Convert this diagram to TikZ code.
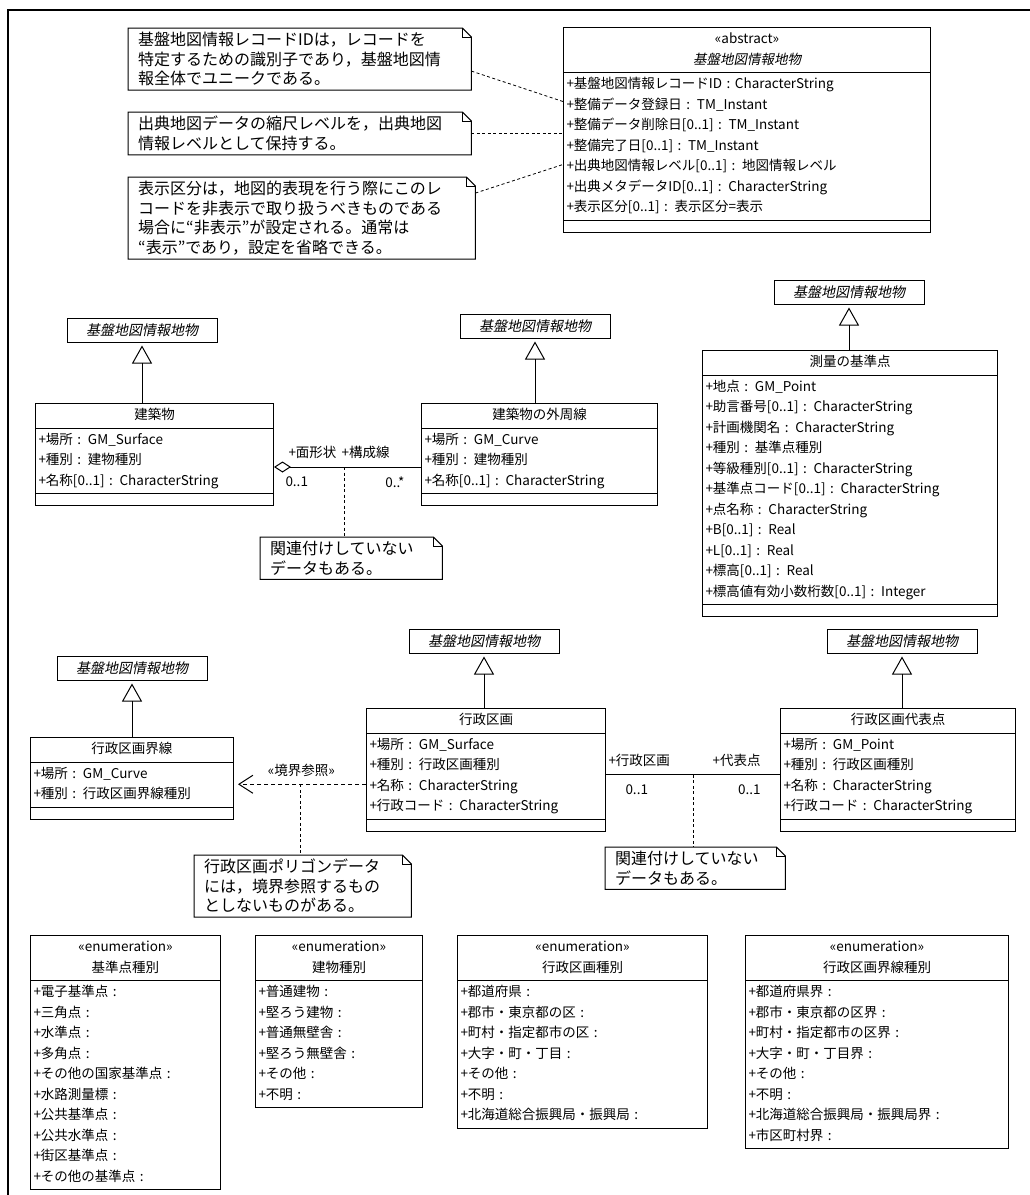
\documentclass[tikz,border=0pt]{standalone}
\usepackage{fontspec}
\setmainfont{Noto Sans CJK JP}
\newfontfamily\slantjp[FakeSlant=0.2]{Noto Sans CJK JP}
\usetikzlibrary{shapes.multipart}
\usetikzlibrary{arrows.meta}

\tikzset{
    umlbox/.style={rectangle split, rectangle split parts=3, draw, line width=1pt,
        anchor=north west, text width=#1, inner xsep=3pt, inner ysep=1.5pt,
        font=\fontsize{13.5}{20.5}\selectfont},
    enumbox/.style={umlbox=#1, rectangle split parts=2},
    superbox/.style={draw, line width=1pt, minimum width=150pt, minimum height=24pt,
        inner sep=0pt, font=\slantjp\fontsize{14}{16}\selectfont},
    genline/.style={-{Triangle[open,length=18pt,width=20pt]}, line width=1pt, shorten >=3pt},
    notebox/.style={anchor=north west, text width=#1, align=left, inner xsep=10pt,
        inner ysep=4pt, font=\fontsize{16}{19.5}\selectfont},
    notelink/.style={line width=0.8pt, dash pattern=on 3pt off 2.5pt},
    rolelabel/.style={inner sep=1pt, font=\fontsize{13.5}{16}\selectfont},
}

\newcommand\notefold[1]{%
    \draw[line width=1pt] (#1.north west) -- ([xshift=-9pt]#1.north east)
        -- ([yshift=-9pt]#1.north east) -- (#1.south east) -- (#1.south west) -- cycle;
    \draw[line width=0.7pt] ([xshift=-9pt]#1.north east) -- ([xshift=-9pt,yshift=-9pt]#1.north east)
        -- ([yshift=-9pt]#1.north east);
}

\begin{document}
\begin{tikzpicture}[x=1pt, y=-1pt]
    \useasboundingbox (0,0) rectangle (1030,1195);
    \draw[line width=1.5pt] (8,1195) -- (8,10) -- (1030,10);

    \node[notebox=323pt] (n-id) at (128,28) {基盤地図情報レコードIDは，レコードを\\特定するための識別子であり，基盤地図情\\報全体でユニークである。};
    \notefold{n-id}
    \node[notebox=323pt] (n-level) at (128,112) {出典地図データの縮尺レベルを，出典地図\\情報レベルとして保持する。};
    \notefold{n-level}
    \node[notebox=327pt] (n-disp) at (128,177) {表示区分は，地図的表現を行う際にこのレ\\コードを非表示で取り扱うべきものである\\場合に“非表示”が設定される。通常は\\“表示”であり，設定を省略できる。};
    \notefold{n-disp}

    \node[umlbox=361pt] (feature) at (563,27) {\centering\strut«abstract»\\{\slantjp 基盤地図情報地物}\strut\par
        \nodepart{two}\strut+基盤地図情報レコードID : CharacterString\\
        +整備データ登録日 : TM\_Instant\\
        +整備データ削除日[0..1] : TM\_Instant\\
        +整備完了日[0..1] : TM\_Instant\\
        +出典地図情報レベル[0..1] : 地図情報レベル\\
        +出典メタデータID[0..1] : CharacterString\\
        +表示区分[0..1] : 表示区分=表示\strut
        \nodepart{three}\rule{0pt}{8pt}};

    \draw[notelink] ([yshift=-12pt]n-id.east) -- ([yshift=-29pt]feature.one split west);
    \draw[notelink] (n-level.east) -- (n-level.east -| feature.west);
    \draw[notelink] ([yshift=25pt]n-disp.east) -- ([yshift=-92pt]feature.one split west);

    \node[superbox] (bldg-super) at (142,330) {基盤地図情報地物};
    \node[superbox] (edge-super) at (535,326) {基盤地図情報地物};
    \node[superbox] (point-super) at (849,292) {基盤地図情報地物};

    \node[umlbox=232pt] (bldg) at (35,403) {\centering\strut 建築物\strut\par
        \nodepart{two}\strut+場所 : GM\_Surface\\
        +種別 : 建物種別\\
        +名称[0..1] : CharacterString\strut
        \nodepart{three}\rule{0pt}{8pt}};
    \node[umlbox=230pt] (bldg-edge) at (421,403) {\centering\strut 建築物の外周線\strut\par
        \nodepart{two}\strut+場所 : GM\_Curve\\
        +種別 : 建物種別\\
        +名称[0..1] : CharacterString\strut
        \nodepart{three}\rule{0pt}{8pt}};
    \node[umlbox=289pt] (point) at (702,350) {\centering\strut 測量の基準点\strut\par
        \nodepart{two}\strut+地点 : GM\_Point\\
        +助言番号[0..1] : CharacterString\\
        +計画機関名 : CharacterString\\
        +種別 : 基準点種別\\
        +等級種別[0..1] : CharacterString\\
        +基準点コード[0..1] : CharacterString\\
        +点名称 : CharacterString\\
        +B[0..1] : Real\\
        +L[0..1] : Real\\
        +標高[0..1] : Real\\
        +標高値有効小数桁数[0..1] : Integer\strut
        \nodepart{three}\rule{0pt}{8pt}};

    \draw[genline] (bldg-super.south |- bldg.north) -- (bldg-super.south);
    \draw[genline] (edge-super.south |- bldg-edge.north) -- (edge-super.south);
    \draw[genline] (point-super.south |- point.north) -- (point-super.south);

    \draw[line width=1pt, {Diamond[open,length=17pt,width=11pt]}-] ([yshift=-12.5pt]bldg.east) -- ([yshift=-12.5pt]bldg-edge.west)
        node[rolelabel, pos=0, anchor=south west, xshift=13pt, yshift=7pt] {+面形状}
        node[rolelabel, pos=1, anchor=south east, xshift=-30pt, yshift=7pt] {+構成線}
        node[rolelabel, pos=0, anchor=north west, xshift=10pt, yshift=-8pt] {0..1}
        node[rolelabel, pos=1, anchor=north east, xshift=-15pt, yshift=-8pt] {0..*}
        coordinate[pos=0.48] (bldg-link);
    \node[notebox=162pt] (n-bldg) at (260,537) {関連付けしていない\\データもある。};
    \notefold{n-bldg}
    \draw[notelink] (bldg-link) -- (bldg-link |- n-bldg.north);

    \node[superbox] (bnd-super) at (132,668) {基盤地図情報地物};
    \node[superbox] (admin-super) at (484,641) {基盤地図情報地物};
    \node[superbox] (rep-super) at (902,641) {基盤地図情報地物};

    \node[umlbox=197pt] (admin-bnd) at (30,737) {\centering\strut 行政区画界線\strut\par
        \nodepart{two}\strut+場所 : GM\_Curve\\
        +種別 : 行政区画界線種別\strut
        \nodepart{three}\rule{0pt}{8pt}};
    \node[umlbox=233pt] (admin) at (366,708) {\centering\strut 行政区画\strut\par
        \nodepart{two}\strut+場所 : GM\_Surface\\
        +種別 : 行政区画種別\\
        +名称 : CharacterString\\
        +行政コード : CharacterString\strut
        \nodepart{three}\rule{0pt}{8pt}};
    \node[umlbox=229pt] (admin-rep) at (780,708) {\centering\strut 行政区画代表点\strut\par
        \nodepart{two}\strut+場所 : GM\_Point\\
        +種別 : 行政区画種別\\
        +名称 : CharacterString\\
        +行政コード : CharacterString\strut
        \nodepart{three}\rule{0pt}{8pt}};

    \draw[genline] (bnd-super.south |- admin-bnd.north) -- (bnd-super.south);
    \draw[genline] (admin-super.south |- admin.north) -- (admin-super.south);
    \draw[genline] (rep-super.south |- admin-rep.north) -- (rep-super.south);

    \draw[line width=1pt, dash pattern=on 4pt off 3pt, -{Straight Barb[length=14pt,width=18pt]}, shorten >=4pt]
        ([yshift=-6pt]admin-bnd.east -| admin.west) -- ([yshift=-6pt]admin-bnd.east)
        node[rolelabel, pos=0.49, above, yshift=6pt] {«境界参照»}
        coordinate[pos=0.5] (bnd-link);
    \node[notebox=197pt] (n-bnd) at (194,855) {行政区画ポリゴンデータ\\には，境界参照するもの\\としないものがある。};
    \notefold{n-bnd}
    \draw[notelink] (bnd-link) -- (bnd-link |- n-bnd.north);

    \draw[line width=1pt] ([yshift=-5pt]admin.east) -- ([yshift=-5pt]admin-rep.west)
        node[rolelabel, pos=0, anchor=south west, xshift=1pt, yshift=7pt] {+行政区画}
        node[rolelabel, pos=1, anchor=south east, xshift=-18pt, yshift=7pt] {+代表点}
        node[rolelabel, pos=0, anchor=north west, xshift=18pt, yshift=-8pt] {0..1}
        node[rolelabel, pos=1, anchor=north east, xshift=-18pt, yshift=-8pt] {0..1}
        coordinate[pos=0.5] (rep-link);
    \node[notebox=160pt] (n-rep) at (605,847) {関連付けしていない\\データもある。};
    \notefold{n-rep}
    \draw[notelink] (rep-link) -- (rep-link |- n-rep.north);

    \node[enumbox=184pt] (e-point) at (30,935) {\centering\strut«enumeration»\\基準点種別\strut\par
        \nodepart{two}\strut+電子基準点 :\\
        +三角点 :\\
        +水準点 :\\
        +多角点 :\\
        +その他の国家基準点 :\\
        +水路測量標 :\\
        +公共基準点 :\\
        +公共水準点 :\\
        +街区基準点 :\\
        +その他の基準点 :\strut};
    \node[enumbox=161pt] (e-bldg) at (255,935) {\centering\strut«enumeration»\\建物種別\strut\par
        \nodepart{two}\strut+普通建物 :\\
        +堅ろう建物 :\\
        +普通無壁舎 :\\
        +堅ろう無壁舎 :\\
        +その他 :\\
        +不明 :\strut};
    \node[enumbox=244pt] (e-admin) at (457,935) {\centering\strut«enumeration»\\行政区画種別\strut\par
        \nodepart{two}\strut+都道府県 :\\
        +郡市・東京都の区 :\\
        +町村・指定都市の区 :\\
        +大字・町・丁目 :\\
        +その他 :\\
        +不明 :\\
        +北海道総合振興局・振興局 :\strut};
    \node[enumbox=257pt] (e-bnd) at (745,935) {\centering\strut«enumeration»\\行政区画界線種別\strut\par
        \nodepart{two}\strut+都道府県界 :\\
        +郡市・東京都の区界 :\\
        +町村・指定都市の区界 :\\
        +大字・町・丁目界 :\\
        +その他 :\\
        +不明 :\\
        +北海道総合振興局・振興局界 :\\
        +市区町村界 :\strut};
\end{tikzpicture}
\end{document}
